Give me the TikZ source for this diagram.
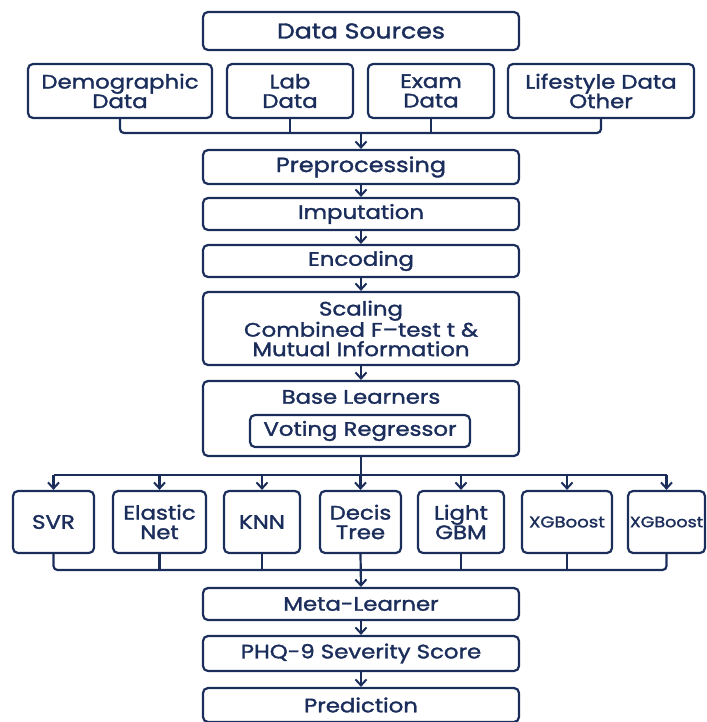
\documentclass[tikz,border=0pt]{standalone}
\usepackage{fontspec}
\setmainfont{Poppins}[UprightFeatures={FakeBold=1.6,FakeStretch=1.17}]
\usetikzlibrary{arrows.meta}
\definecolor{navy}{HTML}{1B2D5B}
\begin{document}
\begin{tikzpicture}[x=1pt,y=-1pt,
  txt/.style={text=navy,align=center,inner sep=0pt,font=\fontsize{19.5}{19.5}\selectfont},
  box/.style={txt,draw=navy,line width=2.2pt,rounded corners=5pt},
  arr/.style={draw=navy,line width=2.2pt,-{Straight Barb[length=6pt,width=11pt,line width=2pt]}},
  ln/.style={draw=navy,line width=2.2pt}]
\useasboundingbox (0,0) rectangle (706,722);
\newcommand{\bx}[6]{\node[box,minimum width=#4-#2,minimum height=#5-#3] (#1) at ({(#2+#4)/2},{(#3+#5)/2}) {#6};}
\bx{ds}{203}{12}{519}{50}{\fontsize{21.5}{21.5}\selectfont Data Sources}
\bx{demo}{28}{64}{212}{118}{Demographic\\Data}
\bx{lab}{227}{64}{353}{118}{Lab\\Data}
\bx{exam}{368}{64}{494}{118}{Exam\\Data}
\bx{life}{508}{64}{694}{118}{Lifestyle Data\\Other}
\bx{pre}{203}{150}{519}{184}{\fontsize{20.5}{20.5}\selectfont Preprocessing}
\bx{imp}{203}{198}{519}{230}{Imputation}
\bx{enc}{203}{245}{519}{277}{Encoding}
\bx{scal}{203}{292}{519}{365}{Scaling\\Combined F–test t \&\\Mutual Information}
\bx{base}{203}{381}{519}{456}{}
\node[txt] (basetitle) at (361,397) {Base Learners};
\bx{vote}{250}{415}{470}{447}{Voting Regressor}
\bx{svr}{13}{491}{94}{553}{SVR}
\bx{ela}{113}{491}{206}{553}{Elastic\\Net}
\bx{knn}{224}{491}{300}{553}{KNN}
\bx{dt}{320}{491}{401}{553}{Decis\\Tree}
\bx{lgb}{418}{491}{504}{553}{Light\\GBM}
\bx{xg1}{522}{491}{612}{553}{\fontsize{15.5}{15.5}\selectfont XGBoost}
\bx{xg2}{628}{491}{705}{553}{\fontsize{15}{15}\selectfont XGBoost}
\bx{meta}{203}{588}{519}{620}{Meta-Learner}
\bx{phq}{203}{636}{519}{671}{PHQ-9 Severity Score}
\bx{pred}{203}{688}{519}{722}{Prediction}
% top bus
\coordinate (b1) at (361,133);
\draw[ln,rounded corners=4pt] (demo.south) |- (life.south |- b1) -- (life.south);
\draw[ln] (lab.south) -- (lab.south |- b1);
\draw[ln] (exam.south) -- (exam.south |- b1);
\draw[arr] (b1) -- (pre.north);
\draw[arr] (pre.south) -- (imp.north);
\draw[arr] (imp.south) -- (enc.north);
\draw[arr] (enc.south) -- (scal.north);
\draw[arr] (scal.south) -- (base.north);
% distribution bus
\coordinate (b2) at (361,475);
\draw[ln] (base.south) -- (b2);
\draw[ln] (svr.north |- b2) -- (xg2.north |- b2);
\foreach \n in {svr,ela,knn,dt,lgb,xg1,xg2} \draw[arr] (\n.north |- b2) -- (\n.north);
% collecting bus
\coordinate (b3) at (361,570);
\draw[ln,rounded corners=4pt] (svr.south) |- (xg2.south |- b3) -- (xg2.south);
\foreach \n in {ela,knn,lgb,xg1} \draw[ln] (\n.south) -- (\n.south |- b3);
\draw[arr] (dt.south) -- (meta.north);
\draw[arr] (meta.south) -- (phq.north);
\draw[arr] (phq.south) -- (pred.north);
\end{tikzpicture}
\end{document}
